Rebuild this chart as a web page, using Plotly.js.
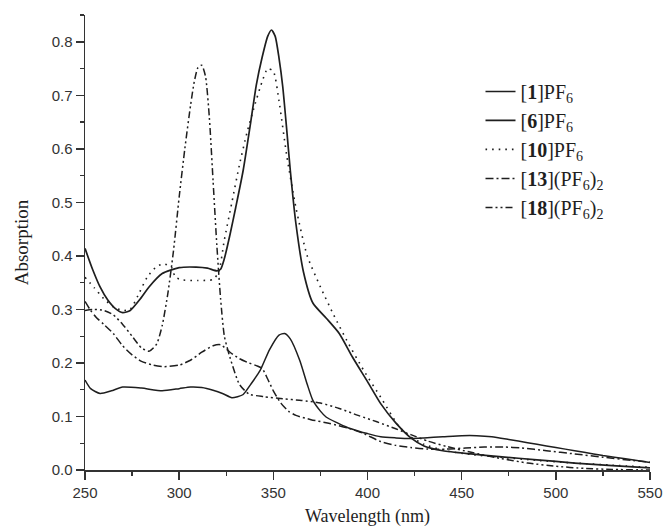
<!DOCTYPE html>
<html>
<head>
<meta charset="utf-8">
<script src="https://cdn.plot.ly/plotly-3.0.1.min.js"></script>
<style>html,body{margin:0;padding:0;background:#fff}#chart{width:664px;height:531px}</style>
</head>
<body>
<div id="chart"></div>
<script>
// [1]PF6 (solid, small peak)
const x1 = [250,253,258,264,270,280,291,300,306,312,318,323,328,331,334,338,343,348,353,356,359,364,368,371,375,378,384,389,395,400,407,415,423,430,440,450,458,466,475,485,495,505,515,525,537,550];
const y1 = [0.168,0.152,0.143,0.148,0.155,0.153,0.148,0.152,0.155,0.154,0.149,0.143,0.135,0.137,0.141,0.160,0.186,0.225,0.252,0.255,0.245,0.205,0.160,0.130,0.110,0.099,0.088,0.080,0.073,0.068,0.062,0.060,0.059,0.060,0.062,0.064,0.064,0.062,0.057,0.051,0.045,0.039,0.033,0.027,0.021,0.014];
// [6]PF6 (solid, big peak)
const x6 = [250,254,258,262,266,270,274,279,284,291,300,309,315,320,322,324,327,330,334,338,341,344,347,349,351,353,355,357,359,362,366,371,378,385,392,400,407,415,423,430,440,455,470,490,510,530,550];
const y6 = [0.414,0.375,0.342,0.318,0.302,0.294,0.298,0.318,0.342,0.367,0.378,0.379,0.377,0.372,0.375,0.395,0.44,0.49,0.56,0.65,0.72,0.77,0.81,0.822,0.81,0.77,0.716,0.64,0.56,0.46,0.37,0.312,0.284,0.255,0.211,0.165,0.124,0.088,0.060,0.045,0.036,0.030,0.025,0.019,0.013,0.008,0.004];
// [10]PF6 (dotted)
const x10 = [250,255,260,265,270,274,278,283,288,292,296,298,302,310,318,321,324,328,332,336,340,344,347,350,353,357,362,368,375,382,389,398,407,417,423,430,440,455,470,490,510,530,550];
const y10 = [0.36,0.34,0.32,0.305,0.298,0.30,0.325,0.36,0.38,0.385,0.378,0.36,0.355,0.354,0.356,0.37,0.43,0.50,0.57,0.63,0.68,0.725,0.75,0.745,0.69,0.59,0.49,0.40,0.342,0.29,0.242,0.186,0.136,0.08,0.062,0.048,0.037,0.029,0.024,0.018,0.013,0.009,0.005];
// [13](PF6)2 (dash-dot)
const x13 = [250,253,256,260,265,270,275,280,286,292,300,306,312,318,322,327,332,337,341,344,347,350,354,358,362,370,380,390,398,407,415,423,432,442,452,462,472,482,495,510,525,540,550];
const y13 = [0.315,0.298,0.285,0.272,0.255,0.232,0.215,0.203,0.196,0.193,0.196,0.205,0.22,0.232,0.234,0.22,0.208,0.2,0.195,0.19,0.17,0.148,0.125,0.11,0.102,0.094,0.087,0.078,0.068,0.053,0.046,0.042,0.039,0.039,0.041,0.043,0.043,0.041,0.036,0.03,0.024,0.018,0.015];
// [18](PF6)2 (dash-dot-dot)
const x18 = [250,255,260,265,270,275,280,284,288,291,294,297,300,303,306,308,310,312,314,316,318,320,322,324,327,332,337,345,355,365,375,385,395,405,415,423,432,442,455,470,485,500,515,530,550];
const y18 = [0.298,0.300,0.298,0.290,0.272,0.250,0.228,0.222,0.235,0.27,0.33,0.41,0.51,0.60,0.68,0.725,0.752,0.756,0.735,0.66,0.54,0.42,0.32,0.25,0.21,0.16,0.142,0.137,0.133,0.130,0.125,0.115,0.102,0.09,0.077,0.066,0.054,0.044,0.033,0.022,0.013,0.007,0.003,0.001,0.0];

const names = ['[<b>1</b>]PF<sub>6</sub>','[<b>6</b>]PF<sub>6</sub>','[<b>10</b>]PF<sub>6</sub>','[<b>13</b>](PF<sub>6</sub>)<sub>2</sub>','[<b>18</b>](PF<sub>6</sub>)<sub>2</sub>'];
const xs = [x1,x6,x10,x13,x18];
const ys = [y1,y6,y10,y13,y18];
const dashes = ['solid','solid','1.6px,5px','8px,3px,2px,3px','7px,3px,2px,3px,2px,3px'];
const widths = [1.5,1.7,1.6,1.5,1.5];

const serif = "'Liberation Serif', 'Times New Roman', serif";
const sans = "'Liberation Sans', Arial, sans-serif";

const traces = xs.map((x,i)=>({
  x: x, y: ys[i], name: names[i], type:'scatter', mode:'lines',
  line:{color:'#1e1e1e', width:widths[i], dash:dashes[i], shape:'spline', smoothing:0.6},
  hoverinfo:'skip'
}));

const layout = {
  width:664, height:531,
  margin:{l:85, r:14, t:15, b:61},
  paper_bgcolor:'#fff', plot_bgcolor:'#fff',
  font:{family:sans},
  showlegend:true,
  legend:{x:0.70, y:0.875, xanchor:'left', yanchor:'top', bgcolor:'rgba(0,0,0,0)',
    font:{family:serif, size:20, color:'#1e1e1e'}, tracegroupgap:0},
  xaxis:{range:[250,550], tickvals:[250,300,350,400,450,500,550], ticks:'outside', ticklen:8, tickwidth:1.5,
    tickcolor:'#333', showline:true, linecolor:'#333', linewidth:1.5, showgrid:false, zeroline:false,
    minor:{dtick:25, tick0:250, ticks:'outside', ticklen:4, tickwidth:1.2, tickcolor:'#333', showgrid:false},
    tickfont:{family:sans, size:15, color:'#333'},
    title:{text:'Wavelength (nm)', font:{family:serif, size:18, color:'#1e1e1e'}, standoff:10}},
  yaxis:{range:[0,0.85], tickvals:[0,0.1,0.2,0.3,0.4,0.5,0.6,0.7,0.8], ticktext:['0.0','0.1','0.2','0.3','0.4','0.5','0.6','0.7','0.8'],
    ticks:'outside', ticklen:8, tickwidth:1.5, tickcolor:'#333',
    showline:true, linecolor:'#333', linewidth:1.5, showgrid:false, zeroline:false,
    minor:{dtick:0.05, tick0:0, ticks:'outside', ticklen:4, tickwidth:1.2, tickcolor:'#333', showgrid:false},
    tickfont:{family:sans, size:15, color:'#333'},
    title:{text:'Absorption', font:{family:serif, size:19, color:'#1e1e1e'}, standoff:18}}
};
Plotly.newPlot('chart', traces, layout, {staticPlot:true, displayModeBar:false});
</script>
</body>
</html>
